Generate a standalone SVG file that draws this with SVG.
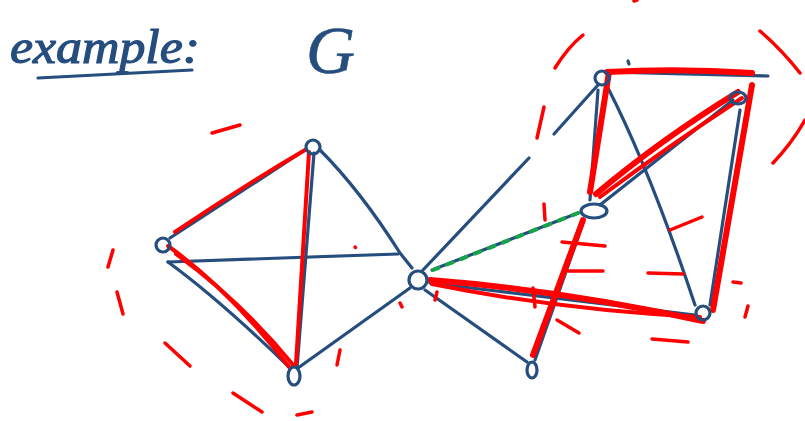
<svg xmlns="http://www.w3.org/2000/svg" width="805" height="421" viewBox="0 0 805 421">
<style>
.b{fill:none;stroke:#254d7e;stroke-width:3.2;stroke-linecap:round;stroke-linejoin:round}
.r{fill:none;stroke:#ff0000;stroke-width:4;stroke-linecap:round;stroke-linejoin:round}
.rt{fill:none;stroke:#ff0000;stroke-width:6;stroke-linecap:round;stroke-linejoin:round}
.d{fill:none;stroke:#ff0000;stroke-width:3.5;stroke-linecap:round}
.g{fill:none;stroke:#16a34a;stroke-width:4;stroke-linecap:round;stroke-dasharray:6 9}
.n{fill:none;stroke:#254d7e;stroke-width:3.2}
.t{fill:#254d7e;stroke:#254d7e;font-family:"Liberation Serif",serif;font-style:italic}
</style>
<rect width="805" height="421" fill="#ffffff"/>
<g id="title">
<text class="t" x="10" y="63" font-size="48" stroke-width="1.2" textLength="190" lengthAdjust="spacingAndGlyphs">example:</text>
<path class="b" d="M38 78 L192 70" stroke-width="3.5"/>
<text class="t" x="306" y="73" font-size="68" stroke-width="0.5">G</text>
</g>
<g id="connectors">
<path class="b" d="M170 238 L305 150"/>
<path class="b" d="M168 262 Q220 300 290 368"/>
<path class="b" d="M168 262 L398 254"/>
<path class="b" d="M320 150 Q360 190 400 253 L412 268"/>
<path class="b" d="M314 153 L297 368"/>
<path class="b" d="M298 368 L410 288"/>
<path class="b" d="M423 270 L529 158"/>
<path class="b" d="M554 134 L598 85"/>
<path class="b" d="M432 270 L578 213"/>
<path class="b" d="M430 283 L695 315"/>
<path class="b" d="M425 290 L527 362"/>
<path class="b" d="M605 72 L768 76"/>
<path class="b" d="M628 61 L629 64"/>
<path class="b" d="M608 88 Q650 170 695 305"/>
<path class="b" d="M598 90 L590 200"/>
<path class="b" d="M733 100 L600 205"/>
<path class="b" d="M740 110 L710 305"/>
<path class="b" d="M582 226 L535 360"/>
<path class="r" d="M175 232 Q240 188 305 150"/>
<path class="r" d="M168 246 Q230 290 290 368"/>
<path class="r" d="M176 254 Q242 302 294 366"/>
<path class="r" d="M309 152 L296 364"/>
<path class="rt" d="M607 72 Q680 68 752 73"/>
<path class="rt" d="M609 72 L590 192"/>
<path class="rt" d="M738 92 Q660 140 596 194"/>
<path class="r" d="M742 98 Q670 145 600 197"/>
<path class="rt" d="M752 85 L713 310"/>
<path class="rt" d="M430 280 Q560 290 703 321"/>
<path class="r" d="M432 284 Q560 310 700 317"/>
<path class="rt" d="M583 220 L533 355"/>
<path class="g" d="M433 270 L578 213"/>
</g>
<g id="circles">
<path class="d" d="M212 133 L240 125"/>
<path class="d" d="M113 250 L108 267"/>
<path class="d" d="M117 292 L123 314"/>
<path class="d" d="M165 343 L190 366"/>
<path class="d" d="M233 393 L262 412"/>
<path class="d" d="M297 415 L312 412"/>
<path class="d" d="M340 350 L337 365"/>
<path class="d" d="M400 303 L402 307"/>
<path class="d" d="M355 247 L355.5 247.5"/>
<path class="d" d="M437 292 L435 300"/>
<path class="d" d="M555 68 Q568 47 583 35"/>
<path class="d" d="M537 138 L544 107"/>
<path class="d" d="M634 1 L637 0"/>
<path class="d" d="M760 31 Q782 50 800 73"/>
<path class="d" d="M773 163 Q792 143 805 120"/>
<path class="d" d="M544 204 L545 220"/>
<path class="d" d="M562 242 L605 246"/>
<path class="d" d="M568 271 L603 271"/>
<path class="d" d="M670 230 L702 217"/>
<path class="d" d="M648 273 L683 274"/>
<path class="d" d="M733 282 L741 283"/>
<path class="d" d="M748 306 L745 317"/>
<path class="d" d="M652 339 L688 342"/>
<path class="d" d="M557 320 L579 333"/>
<path class="d" d="M533 288 L535 307"/>
</g>
<g id="nA"><circle class="n" cx="163" cy="245" r="7"/></g>
<g id="nB"><circle class="n" cx="313" cy="147" r="7"/></g>
<g id="nC"><ellipse class="n" cx="294" cy="376" rx="6" ry="9"/></g>
<g id="nD"><circle class="n" cx="418" cy="280" r="9"/></g>
<g id="nE"><circle class="n" cx="602" cy="78" r="7"/></g>
<g id="nF"><ellipse class="n" cx="738" cy="98" rx="8" ry="6"/></g>
<g id="nH"><ellipse class="n" cx="594" cy="211" rx="13" ry="7"/></g>
<g id="nI"><circle class="n" cx="703" cy="313" r="7"/></g>
<g id="nJ"><ellipse class="n" cx="532" cy="370" rx="5" ry="8"/></g>
</svg>
